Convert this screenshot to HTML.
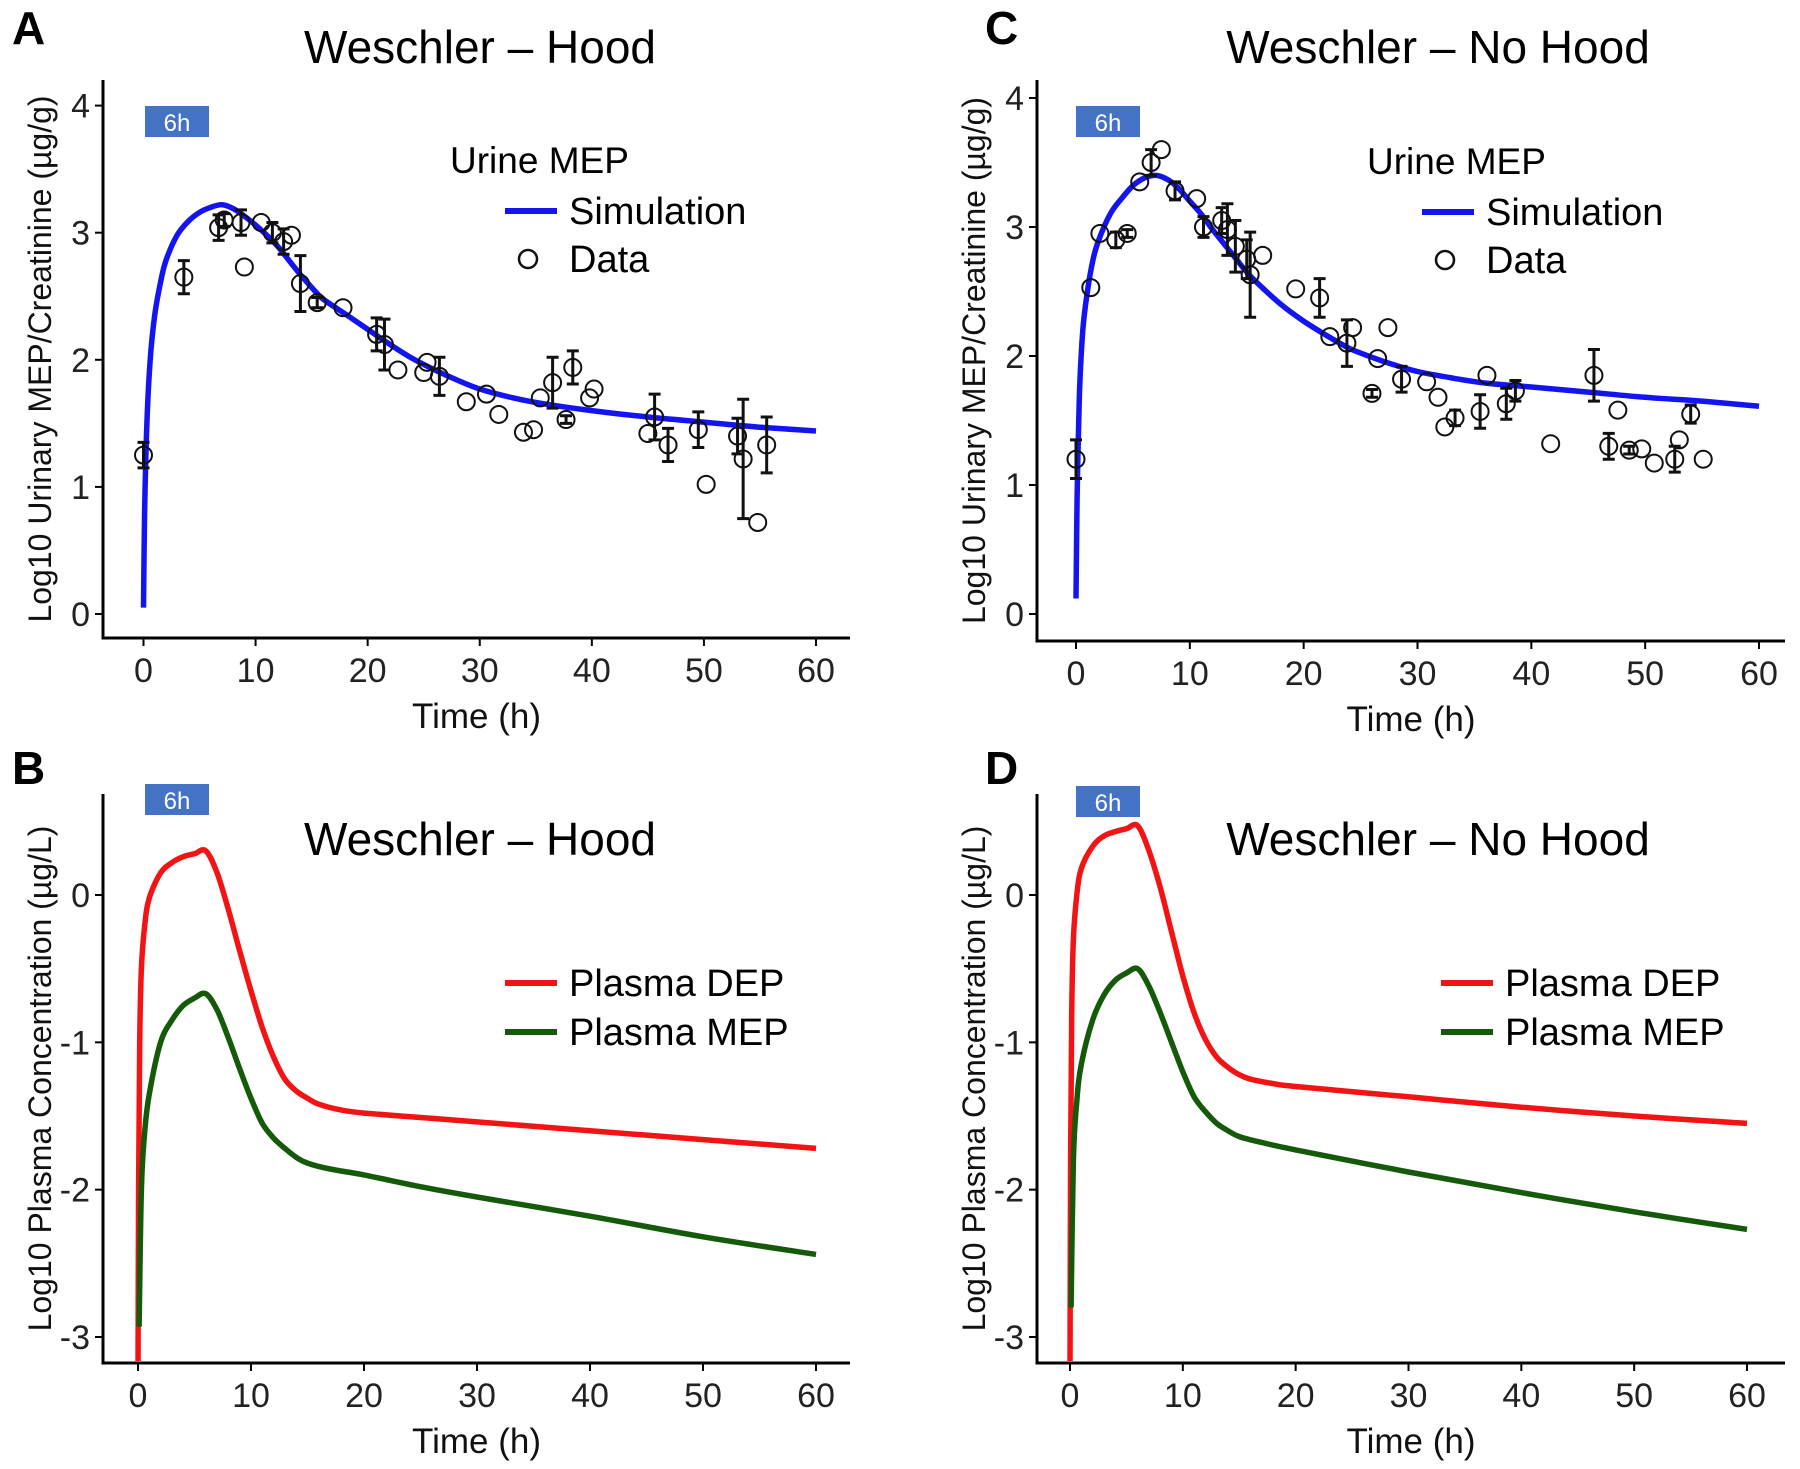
<!DOCTYPE html>
<html><head><meta charset="utf-8"><style>
html,body{margin:0;padding:0;background:#fff}
svg{display:block}
text{font-family:"Liberation Sans",Arial,sans-serif}
</style></head><body>
<svg id="fig" xmlns="http://www.w3.org/2000/svg" width="1800" height="1469" viewBox="0 0 1800 1469"></svg>
<script>
// ===== Data =====
const xTicks = [0,10,20,30,40,50,60];
const urineTicks = [0,1,2,3,4];
const plasmaTicks = [0,-1,-2,-3];

const simA_t = [0,0.1,0.3,0.6,1,1.5,2,3,4,5,6,7,8,9,10,11,12,13,14,15,16,18,20,22,24,26,28,30,33,36,40,45,50,55,60];
const simA_y = [0.05,0.8,1.5,2.0,2.35,2.6,2.78,2.98,3.09,3.16,3.2,3.22,3.19,3.13,3.06,2.98,2.89,2.78,2.67,2.57,2.48,2.36,2.24,2.12,2.01,1.92,1.84,1.77,1.70,1.65,1.6,1.55,1.51,1.47,1.44];
const dataA_t = [0,3.6,6.7,7.2,8.7,9,10.5,11.5,12.5,13.2,14,15.5,17.8,20.8,21.5,22.7,25,25.3,26.4,28.8,30.6,31.7,33.9,34.8,35.4,36.5,37.7,38.3,39.8,40.2,45,45.6,46.8,49.5,50.2,53,53.5,54.8,55.6];
const dataA_y = [1.25,2.65,3.04,3.1,3.08,2.73,3.08,3.0,2.93,2.98,2.6,2.45,2.41,2.2,2.12,1.92,1.9,1.98,1.87,1.67,1.73,1.57,1.43,1.45,1.7,1.82,1.53,1.94,1.7,1.77,1.42,1.55,1.33,1.45,1.02,1.4,1.22,0.72,1.33];
const dataA_e = [0.1,0.13,0.1,0.05,0.1,0,0,0.08,0.1,0,0.22,0.04,0,0.13,0.2,0,0,0,0.15,0,0,0,0,0,0,0.2,0.03,0.13,0,0,0,0.18,0.13,0.14,0,0.14,0.47,0,0.22];

const simC_t = [0,0.1,0.3,0.6,1,1.5,2,3,4,5,6,7,8,9,10,11,12,13,14,15,16,18,20,22,24,26,28,30,33,36,40,45,50,55,60];
const simC_y = [0.12,0.9,1.7,2.2,2.5,2.75,2.9,3.1,3.22,3.32,3.38,3.4,3.37,3.3,3.2,3.1,2.98,2.87,2.76,2.65,2.56,2.4,2.27,2.16,2.06,1.99,1.93,1.88,1.83,1.79,1.76,1.72,1.68,1.65,1.61];
const dataC_t = [0,1.3,2.1,3.5,4.5,5.6,6.6,7.5,8.7,10.6,11.2,12.8,13.3,14,15,15.3,16.4,19.3,21.4,22.3,23.8,24.3,26,26.5,27.4,28.6,30.8,31.8,32.4,33.3,35.5,36.1,37.8,38.6,41.7,45.5,46.8,47.6,48.6,49.7,50.8,52.6,53,54,55.1];
const dataC_y = [1.2,2.53,2.95,2.9,2.95,3.35,3.5,3.6,3.28,3.22,3.0,3.05,2.98,2.85,2.75,2.63,2.78,2.52,2.45,2.15,2.1,2.22,1.71,1.98,2.22,1.82,1.8,1.68,1.45,1.52,1.57,1.85,1.63,1.73,1.32,1.85,1.3,1.58,1.27,1.28,1.17,1.2,1.35,1.55,1.2];
const dataC_e = [0.15,0,0,0.06,0.03,0,0.1,0,0.07,0,0.08,0.1,0.2,0.2,0.15,0.33,0,0,0.15,0,0.18,0,0.03,0,0,0.1,0,0,0,0.06,0.13,0,0.12,0.08,0,0.2,0.1,0,0.03,0,0,0.1,0,0.07,0];

const depB_t = [0,0.05,0.15,0.3,0.6,1,2,3,4,5,6,7,8,9,10,11,12,13,14,15,16,18,20,25,30,40,50,60];
const depB_y = [-3.3,-2.0,-1.0,-0.5,-0.2,-0.02,0.15,0.22,0.26,0.28,0.3,0.15,-0.1,-0.38,-0.65,-0.9,-1.1,-1.25,-1.33,-1.38,-1.42,-1.46,-1.48,-1.51,-1.54,-1.6,-1.66,-1.72];
const mepB_t = [0.1,0.3,0.6,1,2,3,4,5,6,7,8,9,10,11,12,13,14,15,17,20,25,30,40,50,60];
const mepB_y = [-2.93,-2.0,-1.6,-1.35,-1.0,-0.85,-0.75,-0.7,-0.67,-0.78,-0.97,-1.18,-1.38,-1.55,-1.65,-1.72,-1.78,-1.82,-1.86,-1.9,-1.98,-2.05,-2.18,-2.32,-2.44];
const depD_t = [0,0.05,0.15,0.3,0.6,1,2,3,4,5,6,7,8,9,10,11,12,13,14,15,16,18,20,30,40,50,60];
const depD_y = [-3.3,-1.8,-0.8,-0.3,0.0,0.18,0.33,0.4,0.43,0.45,0.47,0.3,0.05,-0.25,-0.55,-0.8,-0.98,-1.1,-1.17,-1.22,-1.25,-1.28,-1.3,-1.37,-1.44,-1.5,-1.55];
const mepD_t = [0.1,0.3,0.6,1,2,3,4,5,6,7,8,9,10,11,12,13,14,15,17,20,30,40,50,60];
const mepD_y = [-2.8,-1.8,-1.4,-1.15,-0.85,-0.68,-0.58,-0.53,-0.5,-0.62,-0.8,-1.0,-1.2,-1.37,-1.47,-1.55,-1.6,-1.64,-1.68,-1.73,-1.88,-2.02,-2.15,-2.27];

// ===== Drawing =====
const NS = "http://www.w3.org/2000/svg";
const svg = document.getElementById('fig');
function el(tag, attrs, parent){
  const e = document.createElementNS(NS, tag);
  for (const k in attrs) e.setAttribute(k, attrs[k]);
  (parent||svg).appendChild(e);
  return e;
}
function txt(s, attrs, parent){ const e = el('text', attrs, parent); e.textContent = s; return e; }
function smoothPath(P){
  let d = 'M' + P[0][0].toFixed(1) + ' ' + P[0][1].toFixed(1);
  for (let i = 0; i < P.length - 1; i++){
    const p0 = P[Math.max(0,i-1)], p1 = P[i], p2 = P[i+1], p3 = P[Math.min(P.length-1,i+2)];
    const c1x = p1[0] + (p2[0]-p0[0])/6, c1y = p1[1] + (p2[1]-p0[1])/6;
    const c2x = p2[0] - (p3[0]-p1[0])/6, c2y = p2[1] - (p3[1]-p1[1])/6;
    d += ` C${c1x.toFixed(1)} ${c1y.toFixed(1)} ${c2x.toFixed(1)} ${c2y.toFixed(1)} ${p2[0].toFixed(1)} ${p2[1].toFixed(1)}`;
  }
  return d;
}

let clipId = 0;
function panel(cfg){
  const g = el('g', {});
  
  
  const sx = t => cfg.x0 + (t - 0) * (cfg.x60 - cfg.x0) / 60;
  const sy = v => cfg.yA + (v - cfg.vA) * (cfg.yB - cfg.yA) / (cfg.vB - cfg.vA);
  const ax = el('path', {d:`M${cfg.axL} ${cfg.axTop} V${cfg.axBot} H${cfg.axR}`, fill:'none', stroke:'#000', 'stroke-width':3}, g);
  
  
  xTicks.forEach(t => {
    el('line', {x1:sx(t), x2:sx(t), y1:cfg.axBot, y2:cfg.axBot+8, stroke:'#000','stroke-width':2}, g);
    const l = txt(String(t), {x:sx(t), y:cfg.axBot+44, 'font-size':34, 'text-anchor':'middle', fill:'#222'}, g);
    
    
  });
  cfg.yTicks.forEach(v => {
    el('line', {x1:cfg.axL-8, x2:cfg.axL, y1:sy(v), y2:sy(v), stroke:'#000','stroke-width':2}, g);
    const l = txt(String(v), {x:cfg.axL-13, y:sy(v)+12, 'font-size':34, 'text-anchor':'end', fill:'#222'}, g);
    
    
  });
  const xt = txt('Time (h)', {x:(cfg.axL+cfg.axR)/2, y:cfg.axBot+90, 'font-size':35, 'text-anchor':'middle', fill:'#111'}, g);
  
  
  const yc = (cfg.axTop+cfg.axBot)/2;
  const yt = txt(cfg.ytitle, {x:0, y:0, 'font-size':32, 'text-anchor':'middle', fill:'#111', transform:`translate(${cfg.axL-52},${yc}) rotate(-90)`}, g);
  
  
  const pl = txt(cfg.label, {x:cfg.labX, y:cfg.labY, 'font-size':46, 'font-weight':'bold', fill:'#000'}, g);
  
  
  const ti = txt(cfg.title, {x:cfg.titleX, y:cfg.titleY, 'font-size':46, 'text-anchor':'middle', fill:'#000'}, g);
  
  
  const bx = el('rect', {x:cfg.boxX, y:cfg.boxY, width:64, height:31, fill:'#4472C4'}, g);
  
  
  const bt = txt('6h', {x:cfg.boxX+32, y:cfg.boxY+25, 'font-size':24, 'text-anchor':'middle', fill:'#fff'}, g);
  
  
  const cid = 'clip' + (clipId++);
  const cp = el('clipPath', {id:cid}, g);
  el('rect', {x:cfg.axL+1, y:cfg.axTop-40, width:cfg.axR-cfg.axL, height:cfg.axBot-cfg.axTop+38}, cp);
  const plot = el('g', {'clip-path':`url(#${cid})`}, g);
  cfg.lines.forEach(s => {
    const P = s.t.map((t,i)=>[sx(t), sy(s.y[i])]);
    const p = el('path', {d:smoothPath(P), fill:'none', stroke:s.color, 'stroke-width':5.5, 'stroke-linejoin':'round'}, plot);
    
    
  });
  if (cfg.pts){
    cfg.pts.t.forEach((t,i) => {
      const v = cfg.pts.y[i], e = cfg.pts.e[i];
      if (e > 0){
        const eb = el('path', {d:`M${sx(t)} ${sy(v-e)} V${sy(v+e)} M${sx(t)-6} ${sy(v-e)} h12 M${sx(t)-6} ${sy(v+e)} h12`, stroke:'#111', 'stroke-width':3, fill:'none'}, plot);
        
        
      }
      const c = el('circle', {cx:sx(t), cy:sy(v), r:8.5, fill:'none', stroke:'#111', 'stroke-width':2}, plot);
      
      
    });
  }
  const lg = el('g', {}, g);
  
  
  if (cfg.legTitle){
    txt(cfg.legTitle, {x:cfg.legX-55, y:cfg.legY-38, 'font-size':37, fill:'#000'}, lg);
  }
  cfg.legend.forEach((it,i) => {
    const y = cfg.legY + i*cfg.legGap;
    if (it.type === 'line') el('line', {x1:cfg.legX, x2:cfg.legX+52, y1:y, y2:y, stroke:it.color, 'stroke-width':6}, lg);
    else el('circle', {cx:cfg.legX+23, cy:y, r:9, fill:'none', stroke:'#111','stroke-width':2.5}, lg);
    const lt = txt(it.label, {x:cfg.legX+64, y:y+13, 'font-size':38, fill:'#000'}, lg);
    
    
  });
}

const urineY = 'Log10 Urinary MEP/Creatinine (µg/g)';
const plasmaY = 'Log10 Plasma Concentration (µg/L)';
panel({name:'panel-a', label:'A', labX:12, labY:44, title:'Weschler – Hood', titleX:480, titleY:63,
  axL:103, axR:850, axTop:80, axBot:638, x0:143.5, x60:816, yA:614, vA:0, yB:105.6, vB:4, yTicks:urineTicks,
  ytitle:urineY, boxX:145, boxY:106,
  lines:[{t:simA_t, y:simA_y, color:'#1414F0', name:'simulation-line'}],
  pts:{t:dataA_t, y:dataA_y, e:dataA_e},
  legTitle:'Urine MEP', legX:505, legY:211, legGap:48,
  legend:[{type:'line', color:'#1414F0', label:'Simulation'},{type:'pt', label:'Data'}]});
panel({name:'panel-c', label:'C', labX:985, labY:44, title:'Weschler – No Hood', titleX:1438, titleY:63,
  axL:1037, axR:1785, axTop:80, axBot:641, x0:1076, x60:1759, yA:614, vA:0, yB:98, vB:4, yTicks:urineTicks,
  ytitle:urineY, boxX:1076, boxY:106,
  lines:[{t:simC_t, y:simC_y, color:'#1414F0', name:'simulation-line'}],
  pts:{t:dataC_t, y:dataC_y, e:dataC_e},
  legTitle:'Urine MEP', legX:1422, legY:212, legGap:48,
  legend:[{type:'line', color:'#1414F0', label:'Simulation'},{type:'pt', label:'Data'}]});
panel({name:'panel-b', label:'B', labX:12, labY:784, title:'Weschler – Hood', titleX:480, titleY:855,
  axL:103, axR:850, axTop:794, axBot:1363, x0:138, x60:816, yA:895, vA:0, yB:1337, vB:-3, yTicks:plasmaTicks,
  ytitle:plasmaY, boxX:145, boxY:784,
  lines:[{t:depB_t, y:depB_y, color:'#F21414', name:'plasma-dep-line'},{t:mepB_t, y:mepB_y, color:'#145A0A', name:'plasma-mep-line'}],
  legX:505, legY:983, legGap:49,
  legend:[{type:'line', color:'#F21414', label:'Plasma DEP'},{type:'line', color:'#145A0A', label:'Plasma MEP'}]});
panel({name:'panel-d', label:'D', labX:985, labY:784, title:'Weschler – No Hood', titleX:1438, titleY:855,
  axL:1037, axR:1785, axTop:794, axBot:1363, x0:1070, x60:1747, yA:895, vA:0, yB:1337, vB:-3, yTicks:plasmaTicks,
  ytitle:plasmaY, boxX:1076, boxY:786,
  lines:[{t:depD_t, y:depD_y, color:'#F21414', name:'plasma-dep-line'},{t:mepD_t, y:mepD_y, color:'#145A0A', name:'plasma-mep-line'}],
  legX:1441, legY:983, legGap:49,
  legend:[{type:'line', color:'#F21414', label:'Plasma DEP'},{type:'line', color:'#145A0A', label:'Plasma MEP'}]});
</script>
</body></html>
